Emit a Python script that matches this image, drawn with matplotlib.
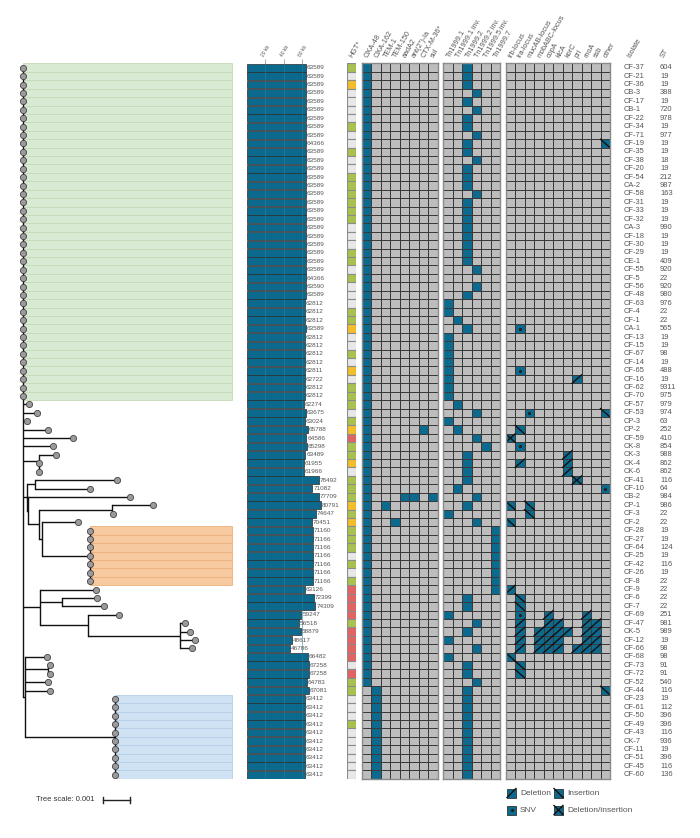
import matplotlib
matplotlib.use("Agg")
import matplotlib.pyplot as plt
import numpy as np
from matplotlib.colors import ListedColormap

plt.rcParams['font.family'] = ['Liberation Sans', 'DejaVu Sans']

# ---------------- data ----------------
isolates = ["CF-37", "CF-21", "CF-36", "CB-3", "CF-17", "CB-1", "CF-22", "CF-34", "CF-71", "CF-19",
            "CF-35", "CF-38", "CF-20", "CF-54", "CA-2", "CF-58", "CF-31", "CF-33", "CF-32", "CA-3",
            "CF-18", "CF-30", "CF-29", "CE-1", "CF-55", "CF-5", "CF-56", "CF-48", "CF-63", "CF-4",
            "CF-1", "CA-1", "CF-13", "CF-15", "CF-67", "CF-14", "CF-65", "CF-16", "CF-62", "CF-70",
            "CF-57", "CF-53", "CP-3", "CP-2", "CF-59", "CK-8", "CK-3", "CK-4", "CK-6", "CF-41",
            "CF-10", "CB-2", "CP-1", "CF-3", "CF-2", "CF-28", "CF-27", "CF-64", "CF-25", "CF-42",
            "CF-26", "CF-8", "CF-9", "CF-6", "CF-7", "CF-69", "CF-47", "CK-5", "CF-12", "CF-66",
            "CF-68", "CF-73", "CF-72", "CF-52", "CF-44", "CF-23", "CF-61", "CF-50", "CF-49", "CF-43",
            "CK-7", "CF-11", "CF-51", "CF-45", "CF-60"]
st = [604, 19, 19, 388, 19, 720, 978, 19, 977, 19,
      19, 18, 19, 212, 987, 163, 19, 19, 19, 990,
      19, 19, 19, 409, 920, 22, 920, 980, 976, 22,
      22, 565, 19, 19, 98, 19, 488, 19, 9311, 975,
      979, 974, 63, 252, 410, 854, 988, 862, 862, 116,
      64, 984, 986, 22, 22, 19, 19, 124, 19, 116,
      19, 22, 22, 22, 22, 251, 981, 989, 19, 98,
      98, 91, 91, 540, 116, 19, 112, 396, 396, 116,
      936, 19, 396, 116, 136]
plasmid_bp = [63589, 63589, 63589, 63589, 63589, 63589, 63589, 63589, 63589, 64366,
              63589, 63589, 63589, 63589, 63589, 63589, 63589, 63589, 63589, 63589,
              63589, 63589, 63589, 63589, 63589, 64366, 63590, 63589, 62812, 62812,
              62812, 63589, 62812, 62812, 62812, 62812, 62811, 62722, 62812, 62812,
              62274, 63675, 63024, 65788, 64586, 65298, 63489, 61955, 61966, 78492,
              71082, 77709, 80791, 74647, 70451, 71160, 71166, 71166, 71166, 71166,
              71166, 71166, 63126, 72399, 74309, 59247, 56518, 58879, 48617, 46786,
              66482, 67258, 67258, 64783, 67081, 63412, 63412, 63412, 63412, 63412,
              63412, 63412, 63412, 63412, 63412]
# g = yes, o = possible, r = other, w = no
hgt = ("gwowwwwgww" "gwwggggggw" "wwggwgwwwg" "gowwgwowgg" "gwgorggowg"
       "ggogogggwg" "wgrrrrgrrr" "rwrggwwwgw" "wwwww")

resist_genes = ["OXA-48", "OXA-162", "TEM-1", "TEM-150", "aadA2", "ant(2'')-Ia", "CTX-M-36*", "sul"]
oxa162_isolates = ["CF-44", "CF-23", "CF-61", "CF-50", "CF-49", "CF-43", "CK-7", "CF-11", "CF-51", "CF-45", "CF-60"]
extra_resist = [("CP-2", "CTX-M-36*"), ("CB-2", "aadA2"), ("CB-2", "ant(2'')-Ia"), ("CB-2", "sul"),
                ("CP-1", "TEM-1"), ("CF-2", "TEM-150")]

tn_names = ["Tn1999.1", "Tn1999.1 inv.", "Tn1999.2", "Tn1999.2 inv.", "Tn1999.5 inv.", "Tn1999.7"]
tn_type = ("2223232232" "2322232222" "22223-3200" "1200000000" "1301342222"
           "1320355555" "5552203203" "0223222222" "22222")

mge_genes = ["trb-locus", "tra-locus", "mucAB-locus", "mobABC-locus", "copA", "klcA", "korC",
             "pri", "rnoA", "ssb", "other"]
mge_events = [
    ("CF-19", "ins", ["other"]),
    ("CA-1", "snv", ["tra-locus"]),
    ("CF-65", "snv", ["tra-locus"]),
    ("CF-16", "del", ["pri"]),
    ("CF-53", "snv", ["mucAB-locus"]),
    ("CF-53", "ins", ["other"]),
    ("CP-2", "ins", ["tra-locus"]),
    ("CF-59", "delins", ["trb-locus"]),
    ("CK-8", "snv", ["tra-locus"]),
    ("CK-3", "del", ["korC"]),
    ("CK-4", "del", ["tra-locus", "korC"]),
    ("CK-6", "del", ["korC"]),
    ("CF-41", "delins", ["pri"]),
    ("CF-10", "snv", ["other"]),
    ("CP-1", "ins", ["trb-locus", "mucAB-locus"]),
    ("CF-3", "ins", ["mucAB-locus"]),
    ("CF-2", "ins", ["trb-locus"]),
    ("CF-9", "del", ["trb-locus"]),
    ("CF-6", "ins", ["tra-locus"]),
    ("CF-7", "ins", ["tra-locus"]),
    ("CF-69", "snv", ["tra-locus"]),
    ("CF-69", "del", ["copA", "rnoA"]),
    ("CF-47", "del", ["tra-locus", "copA", "klcA", "rnoA", "ssb"]),
    ("CK-5", "del", ["tra-locus", "mobABC-locus", "copA", "klcA", "korC", "rnoA", "ssb"]),
    ("CF-12", "del", ["tra-locus", "mobABC-locus", "copA", "klcA", "rnoA", "ssb"]),
    ("CF-66", "del", ["tra-locus", "mobABC-locus", "copA", "klcA", "pri", "rnoA", "ssb"]),
    ("CF-68", "ins", ["trb-locus"]),
    ("CF-73", "ins", ["tra-locus"]),
    ("CF-72", "ins", ["tra-locus"]),
    ("CF-44", "ins", ["other"]),
]

tree_newick = ("(CF-37:0,CF-21:0,CF-36:0,CB-3:0,CF-17:0,CB-1:0,CF-22:0,CF-34:0,CF-71:0,CF-19:0,"
               "CF-35:0,CF-38:0,CF-20:0,CF-54:0,CA-2:0,CF-58:0,CF-31:0,CF-33:0,CF-32:0,CA-3:0,"
               "CF-18:0,CF-30:0,CF-29:0,CE-1:0,CF-55:0,CF-5:0,CF-56:0,CF-48:0,CF-63:0,CF-4:0,"
               "CF-1:0,CA-1:0,CF-13:0,CF-15:0,CF-67:0,CF-14:0,CF-65:0,CF-16:0,CF-62:0,CF-70:0,"
               "CF-57:0.00022,CF-53:0.00052,CP-3:0.00014,CP-2:0.00093,CF-59:0.00185,CK-8:0.00111,"
               "(CK-3:0.00063,(CK-4:0,CK-6:0):0.00002):0.00059,"
               "((CF-41:0.00304,CF-10:0.00204):0.0003,(CB-2:0.00378,((CP-1:0.0015,CF-3:0.00005):0.0027,"
               "(CF-2:0.00133,(CF-28:0,CF-27:0,CF-64:0,CF-25:0,CF-42:0,CF-26:0,CF-8:0):0.00178):0.0001)"
               ":0.00041):0.00004):0.00015,"
               "(CF-9:0.00207,(CF-6:0.0013,CF-7:0.00156):0.00081,(CF-69:0.00115,(CF-47:0.00019,"
               "CK-5:0.00037,CF-12:0.00056,CF-66:0.00044):0.0034):0.00178):0.00063,"
               "(CF-68:0.00081,(CF-73:0.00007,CF-72:0.00007):0.00085,CF-52:0.00085,CF-44:0.00093,"
               "(CF-23:0,CF-61:0,CF-50:0,CF-49:0,CF-43:0,CK-7:0,CF-11:0,CF-51:0,CF-45:0,CF-60:0)"
               ":0.00333):0.00007);")
highlights = [("CF-37", "CF-70", "#d9ead3", "#c4dcba"),
              ("CF-28", "CF-8", "#f6c9a0", "#eeb07c"),
              ("CF-23", "CF-60", "#cfe2f3", "#b5cfe6")]

# ---------------- helpers ----------------
W, H = 700, 838
Y_TOP, Y_BOT = 63.5, 778.9
TEAL = "#0b6a8d"
GREY = "#bdbdbd"
TXT = "#555555"
n = len(isolates)
rows = np.arange(1, n + 1)
row_of = {name: i + 1 for i, name in enumerate(isolates)}

fig = plt.figure(figsize=(W / 100, H / 100), dpi=100)


def px_axes(x0, x1):
    ax = fig.add_axes([x0 / W, 1 - Y_BOT / H, (x1 - x0) / W, (Y_BOT - Y_TOP) / H])
    ax.set_ylim(n + 0.5, 0.5)
    for s in ax.spines.values():
        s.set_visible(False)
    ax.set_xticks([])
    ax.set_yticks([])
    ax.patch.set_alpha(0)
    return ax


def parse_newick(s):
    pos = 0

    def node():
        nonlocal pos
        kids = []
        if s[pos] == "(":
            pos += 1
            while True:
                kids.append(node())
                ch = s[pos]
                pos += 1
                if ch == ")":
                    break
        start = pos
        while s[pos] not in ",);":
            pos += 1
        label = s[start:pos]
        name, _, bl = label.partition(":")
        return {"name": name, "len": float(bl) if bl else 0.0, "kids": kids}

    return node()


def place(nd, x0):
    nd["x"] = x0 + nd["len"]
    if nd["kids"]:
        for k in nd["kids"]:
            place(k, nd["x"])
        nd["y"] = (nd["kids"][0]["y"] + nd["kids"][-1]["y"]) / 2
    else:
        nd["y"] = row_of[nd["name"]]


def draw_tree(ax, nd, px, tips):
    if px is not None:
        ax.plot([px, nd["x"]], [nd["y"], nd["y"]], color="#111111", lw=1.0, solid_capstyle="butt")
    if nd["kids"]:
        ax.plot([nd["x"], nd["x"]], [nd["kids"][0]["y"], nd["kids"][-1]["y"]], color="#111111", lw=1.0)
        for k in nd["kids"]:
            draw_tree(ax, k, nd["x"], tips)
    else:
        tips[nd["name"]] = nd["x"]


def grid_panel(ax, ncol, filled):
    ax.set_xlim(-0.5, ncol - 0.5)
    cmap = ListedColormap([GREY, TEAL])
    ax.pcolormesh(np.arange(ncol + 1) - 0.5, np.arange(n + 1) + 0.5, filled, cmap=cmap,
                  vmin=0, vmax=1, edgecolors="#3a3a3a", linewidth=0.6)
    for s in ax.spines.values():
        s.set_visible(True)
        s.set_color("#8a8a8a")
        s.set_linewidth(1.0)


def header(ax, labels, y=-0.25, size=5.2):
    for i, lab in enumerate(labels):
        ax.text(i, y, lab, rotation=60, rotation_mode="anchor", ha="left", va="center",
                fontsize=size, color=TXT, clip_on=False)


def mark(ax, c, r, kind):
    if kind == "del":
        ax.plot([c - 0.5, c + 0.5], [r + 0.5, r - 0.5], color="#111111", lw=1.0)
    elif kind == "ins":
        ax.plot([c - 0.5, c + 0.5], [r - 0.5, r + 0.5], color="#111111", lw=1.0)
    elif kind == "delins":
        ax.plot([c - 0.5, c + 0.5], [r + 0.5, r - 0.5], color="#111111", lw=1.0)
        ax.plot([c - 0.5, c + 0.5], [r - 0.5, r + 0.5], color="#111111", lw=1.0)
    elif kind == "snv":
        ax.plot([c], [r], "o", color="#222222", ms=1.3)


# ---------------- tree ----------------
scale_px = 27.0
unit = 0.001 / scale_px
ax_t = px_axes(0, 240)
ax_t.set_xlim(-23 * unit, 217 * unit)
root = parse_newick(tree_newick)
place(root, 0.0)
tips = {}
x_end = 209 * unit
draw_tree(ax_t, root, None, tips)
for first, last, fc, ec in highlights:
    for r in range(row_of[first], row_of[last] + 1):
        x0 = tips[isolates[r - 1]]
        ax_t.add_patch(plt.Rectangle((x0, r - 0.5), x_end - x0, 1, facecolor=fc, edgecolor=ec,
                                     lw=0.6, zorder=0))
ax_t.scatter([tips[i] for i in isolates], rows, s=20, color="#9a9a9a", edgecolor="#444444",
             lw=0.6, zorder=5)
# scale bar
sb_x = 80 * unit
ax_t.plot([sb_x, sb_x + 0.001], [88.0, 88.0], color="#222222", lw=1.0, clip_on=False)
for xx in (sb_x, sb_x + 0.001):
    ax_t.plot([xx, xx], [87.6, 88.4], color="#222222", lw=1.0, clip_on=False)
ax_t.text(sb_x - 8 * unit, 88.0, "Tree scale: 0.001", ha="right", va="center", fontsize=5.5,
          color="#333333", clip_on=False)

# ---------------- plasmid size bars ----------------
kb_px = 0.928
ax_b = px_axes(246.5, 340)
ax_b.set_xlim(0, 93.5 / kb_px)
sizes_kb = np.array(plasmid_bp) / 1000
ax_b.barh(rows, sizes_kb, height=0.92, color=TEAL, edgecolor="#2b2b2b", lw=0.5, zorder=2)
for xv in (20, 40, 60):
    ax_b.axvline(xv, color="#2f7ea0", lw=0.4, zorder=3)
ax_b.xaxis.tick_top()
ax_b.set_xticks([20, 40, 60])
ax_b.set_xticklabels(["20 kb", "40 kb", "60 kb"], fontsize=3.5, color=TXT, rotation=60,
                     ha="left", rotation_mode="anchor")
ax_b.tick_params(axis="x", length=3, width=0.5, color="#888888", pad=1)
for r, v, bp in zip(rows, sizes_kb, plasmid_bp):
    ax_b.text(v + 0.8, r, str(bp), va="center", ha="left", fontsize=4.6, color=TXT)

# ---------------- HGT column ----------------
hgt_colors = {"g": "#a9c24f", "w": "#e8e8e8", "o": "#f4bd2a", "r": "#e06464"}
ax_h = px_axes(346.7, 356.2)
ax_h.set_xlim(-0.5, 0.5)
for r, code in zip(rows, hgt):
    ax_h.add_patch(plt.Rectangle((-0.5, r - 0.5), 1, 1, facecolor=hgt_colors[code],
                                 edgecolor="#8c8c8c", lw=0.8))
header(ax_h, ["HGT*"])

# ---------------- resistance genes ----------------
res = np.zeros((n, len(resist_genes)))
for i, name in enumerate(isolates):
    res[i, 1 if name in oxa162_isolates else 0] = 1
for name, g in extra_resist:
    res[row_of[name] - 1, resist_genes.index(g)] = 1
ax_r = px_axes(361.7, 437.7)
grid_panel(ax_r, len(resist_genes), res)
header(ax_r, resist_genes)

# ---------------- Tn1999 variants ----------------
tn = np.zeros((n, len(tn_names)))
for i, t in enumerate(tn_type):
    if t != "-":
        tn[i, int(t)] = 1
ax_n = px_axes(443.3, 500.3)
grid_panel(ax_n, len(tn_names), tn)
header(ax_n, tn_names)

# ---------------- MGE genes ----------------
mg = np.zeros((n, len(mge_genes)))
for name, kind, genes in mge_events:
    for g in genes:
        mg[row_of[name] - 1, mge_genes.index(g)] = 1
ax_m = px_axes(505.6, 610)
grid_panel(ax_m, len(mge_genes), mg)
header(ax_m, mge_genes)
for name, kind, genes in mge_events:
    for g in genes:
        mark(ax_m, mge_genes.index(g), row_of[name], kind)

# ---------------- isolate / ST labels ----------------
ax_l = px_axes(615, 700)
ax_l.set_xlim(615, 700)
for r, iso, s in zip(rows, isolates, st):
    ax_l.text(624, r, iso, va="center", ha="left", fontsize=5.4, color=TXT)
    ax_l.text(660, r, str(s), va="center", ha="left", fontsize=5.4, color=TXT)
ax_l.text(629, -0.25, "Isolate", rotation=60, rotation_mode="anchor", ha="left", va="center",
          fontsize=5.2, color=TXT, clip_on=False)
ax_l.text(662, -0.25, "ST", rotation=60, rotation_mode="anchor", ha="left", va="center",
          fontsize=5.2, color=TXT, clip_on=False)

# ---------------- legend ----------------
ax_g = fig.add_axes([500 / W, 1 - 822 / H, 200 / W, 38 / H])
ax_g.set_xlim(500, 700)
ax_g.set_ylim(822, 784)
ax_g.axis("off")
legend_items = [("Deletion", "del", 507, 793), ("Insertion", "ins", 554, 793),
                ("SNV", "snv", 507, 810), ("Deletion/insertion", "delins", 554, 810)]
for lab, kind, lx, ly in legend_items:
    ax_g.add_patch(plt.Rectangle((lx, ly - 4.5), 9, 9, facecolor=TEAL, edgecolor="#333333", lw=0.6))
    if kind == "del":
        ax_g.plot([lx, lx + 9], [ly + 4.5, ly - 4.5], color="#111111", lw=1.0)
    elif kind == "ins":
        ax_g.plot([lx, lx + 9], [ly - 4.5, ly + 4.5], color="#111111", lw=1.0)
    elif kind == "delins":
        ax_g.plot([lx, lx + 9], [ly + 4.5, ly - 4.5], color="#111111", lw=1.0)
        ax_g.plot([lx, lx + 9], [ly - 4.5, ly + 4.5], color="#111111", lw=1.0)
    else:
        ax_g.plot([lx + 4.5], [ly], "o", color="#222222", ms=1.3)
    ax_g.text(lx + 13, ly, lab, va="center", ha="left", fontsize=6, color=TXT)

fig.savefig("out.png", dpi=100)
